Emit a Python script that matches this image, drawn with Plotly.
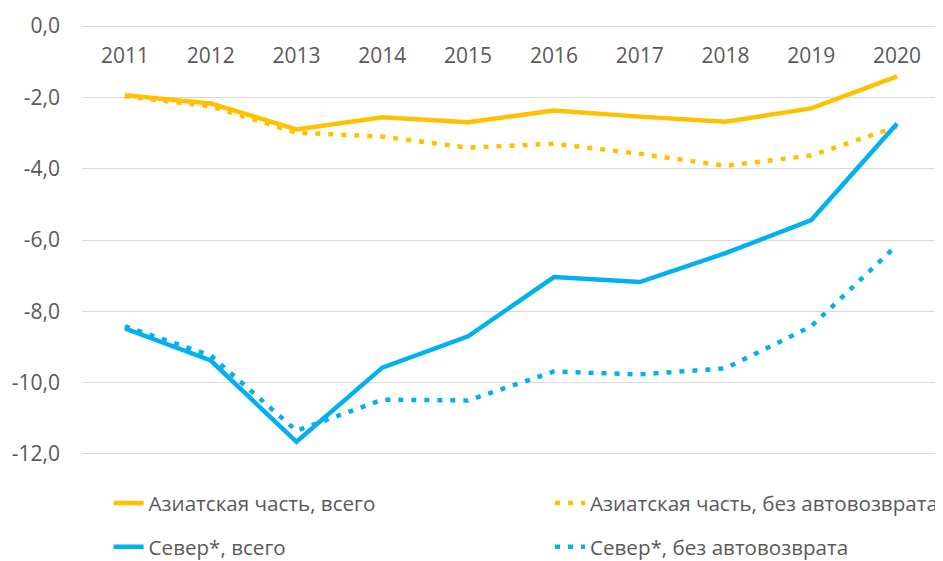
import plotly.graph_objects as go

years = ['2011', '2012', '2013', '2014', '2015', '2016', '2017', '2018', '2019', '2020']

asia_total = [-1.94, -2.17, -2.90, -2.56, -2.70, -2.37, -2.54, -2.68, -2.31, -1.41]
asia_no_auto = [-1.97, -2.25, -2.99, -3.10, -3.41, -3.30, -3.58, -3.92, -3.63, -2.82]
north_total = [-8.48, -9.38, -11.66, -9.58, -8.70, -7.04, -7.18, -6.37, -5.44, -2.73]
north_no_auto = [-8.42, -9.24, -11.35, -10.48, -10.50, -9.69, -9.77, -9.60, -8.42, -6.14]

y_ticks = [0, -2, -4, -6, -8, -10, -12]
y_labels = [f"{v:.1f}".replace('.', ',') for v in y_ticks]

ORANGE = '#FFC000'
BLUE = '#00B0F0'
GREY = '#595959'
FONT = 21
LEG_FONT = 20.6

# (name, values, colour, dash, legend column)
series = [
    ('Азиатская часть, всего', asia_total, ORANGE, 'solid', 'legend'),
    ('Азиатская часть, без автовозврата', asia_no_auto, ORANGE, '5px,8px', 'legend2'),
    ('Север*, всего', north_total, BLUE, 'solid', 'legend'),
    ('Север*, без автовозврата', north_no_auto, BLUE, '5px,8px', 'legend2'),
]

fig = go.Figure()
for i, (name, vals, color, dash, leg) in enumerate(series):
    fig.add_trace(go.Scatter(x=years, y=vals, name=name, mode='lines',
                             legend=leg, legendgroup=str(i),
                             line=dict(color=color, width=4.5, dash=dash)))

# paper x / container y -> legends only reserve bottom space
legend_common = dict(orientation='v', xref='paper', yref='container',
                     xanchor='left', yanchor='top', y=0.141,
                     font=dict(size=LEG_FONT, color=GREY), tracegroupgap=14,
                     bgcolor='rgba(0,0,0,0)')

# page body has an 8px margin, so the figure is 8px smaller each way
fig.update_layout(
    width=935, height=553,
    paper_bgcolor='white', plot_bgcolor='white',
    font=dict(family='Open Sans', size=FONT, color=GREY),
    margin=dict(l=74, r=3, t=17, b=106),
    xaxis=dict(type='category', side='bottom', anchor='free', position=1,
               ticks='', showgrid=False, showline=False, zeroline=False,
               range=[-0.5, 9.5], ticklabelstandoff=16, tickangle=0,
               automargin=False, tickfont=dict(size=FONT, color=GREY)),
    yaxis=dict(range=[-12.03, 0.03], tickvals=y_ticks, ticktext=y_labels,
               showgrid=True, gridcolor='#D9D9D9', gridwidth=1.3,
               zeroline=False, showline=False, ticks='', automargin=False,
               ticklabelstandoff=21, tickfont=dict(size=FONT, color=GREY)),
    legend=dict(x=0.031, **legend_common),
    legend2=dict(x=0.546, **legend_common),
    showlegend=True,
)

fig.write_html("out.html")
